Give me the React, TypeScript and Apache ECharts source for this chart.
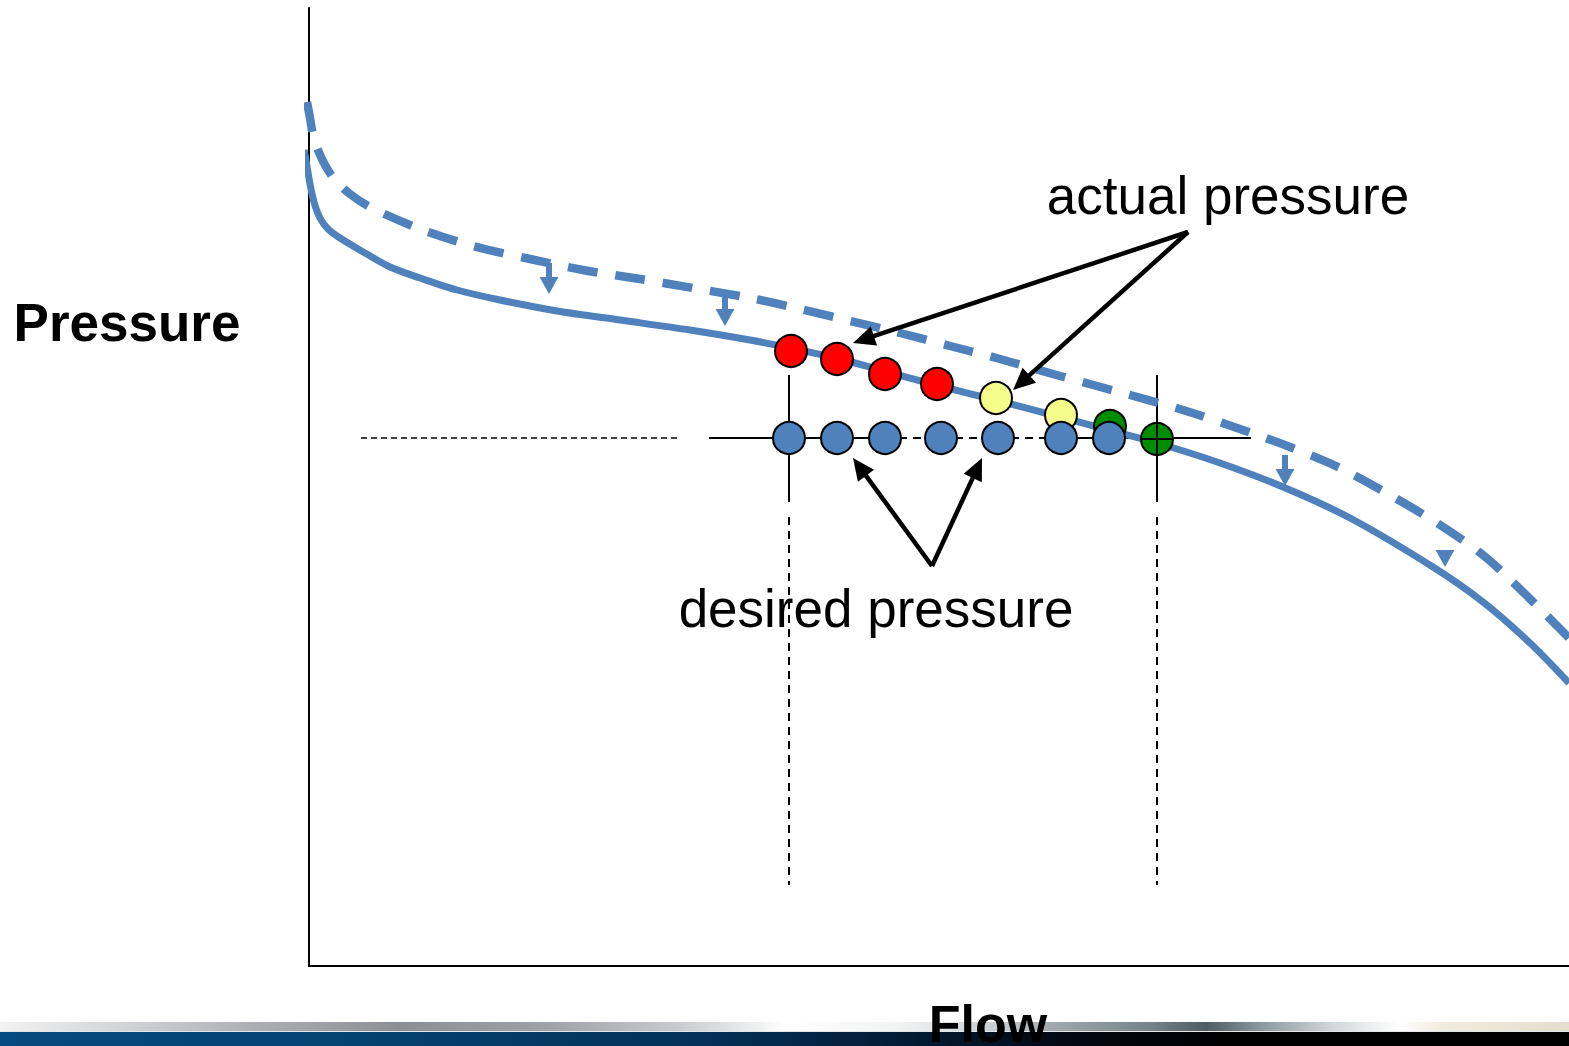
import React, { useEffect, useRef } from "react";
import * as echarts from "echarts";

// Axis extents (arbitrary flow / pressure units)
const FLOW_MAX = 1260;
const PRESSURE_MAX = 958;

// Solid curve: actual system curve
const systemCurve: [number, number][] = [
  [-5, 816], [-2, 800], [1, 782], [5, 764], [11, 748], [19, 737], [31, 728], [56, 713],
  [81, 699], [111, 688], [148, 676], [191, 666], [248, 655], [311, 646],
  [381, 636], [441, 626], [481, 618], [527, 608], [575, 595], [627, 581],
  [686, 566], [751, 549], [799, 536], [848, 523], [911, 503], [974, 479],
  [1041, 448], [1124, 399], [1174, 364], [1221, 323], [1260, 283],
];

// Dashed curve: original (higher) curve
const originalCurve: [number, number][] = [
  [-2, 864], [1, 848], [4, 831], [9, 816], [16, 801], [26, 786], [41, 772],
  [61, 759], [111, 737], [164, 720], [221, 707], [274, 696], [331, 687],
  [384, 678], [441, 668], [491, 657], [541, 645], [591, 633], [641, 620],
  [691, 607], [751, 590], [821, 571], [874, 556], [928, 538], [981, 519],
  [1031, 498], [1081, 471], [1128, 443], [1174, 411], [1214, 374], [1260, 328],
];

// Small shift arrows from dashed to solid curve [x1, y1, x2, y2]
const shiftArrows: number[][] = [
  [240, 703, 240, 672],
  [416, 671, 416, 640],
  [976, 511, 976, 480],
  [1136, 416, 1136, 399],
];

// Desired pressure points
const desiredPoints: [number, number][] = [
  [480, 528], [528, 528], [576, 528], [632, 528], [689, 528], [752, 528], [800, 528],
];

// Actual pressure points
const actualHigh: [number, number][] = [[482, 615], [528, 607], [576, 592], [628, 582]];
const actualNear: [number, number][] = [[687, 568], [752, 551]];
const actualOnTarget: [number, number][] = [[801, 540], [848, 527]];
const targetPoint: [number, number][] = [[848, 527]];

// Guide lines [x1, y1, x2, y2]
const solidGuides: number[][] = [
  [400, 528, 576, 528],
  [752, 528, 942, 528],
  [480, 591, 480, 464],
  [848, 591, 848, 464],
];
const dashedGuides: number[][] = [
  [576, 528, 752, 528],
  [480, 449, 480, 81],
  [848, 449, 848, 81],
];
const thinDashedGuides: number[][] = [[52, 528, 368, 528]];

// Callout arrows [x1, y1, x2, y2]
const calloutArrows: number[][] = [
  [879, 734, 544, 623],
  [879, 734, 704, 576],
  [623, 400, 544, 508],
  [623, 400, 673, 508],
];

const yAxisTitle = "Pressure";
const xAxisTitle = "Flow";
const actualLabel = "actual pressure";
const desiredLabel = "desired pressure";

const BLUE = "#4F81BD";

function segmentSeries(data: number[][], style: any, z: number) {
  return {
    type: "custom",
    coordinateSystem: "cartesian2d",
    data,
    z,
    clip: false,
    silent: true,
    encode: { x: [0, 2], y: [1, 3] },
    renderItem: (_p: any, api: any) => {
      const a = api.coord([api.value(0), api.value(1)]);
      const b = api.coord([api.value(2), api.value(3)]);
      return {
        type: "line",
        shape: { x1: a[0], y1: a[1], x2: b[0], y2: b[1] },
        style: { fill: null, ...style },
      };
    },
  };
}

function arrowSeries(data: number[][], color: string, width: number, headLen: number, headW: number, z: number) {
  return {
    type: "custom",
    coordinateSystem: "cartesian2d",
    data,
    z,
    clip: false,
    silent: true,
    encode: { x: [0, 2], y: [1, 3] },
    renderItem: (_p: any, api: any) => {
      const a = api.coord([api.value(0), api.value(1)]);
      const b = api.coord([api.value(2), api.value(3)]);
      const dx = b[0] - a[0];
      const dy = b[1] - a[1];
      const len = Math.sqrt(dx * dx + dy * dy) || 1;
      const ux = dx / len;
      const uy = dy / len;
      const hl = Math.min(headLen, len);
      const bx = b[0] - ux * hl;
      const by = b[1] - uy * hl;
      const px = -uy * headW / 2;
      const py = ux * headW / 2;
      const children: any[] = [];
      if (len - hl > 0.5) {
        children.push({
          type: "line",
          shape: { x1: a[0], y1: a[1], x2: bx + ux * 2, y2: by + uy * 2 },
          style: { stroke: color, lineWidth: width, fill: null },
        });
      }
      children.push({
        type: "polygon",
        shape: { points: [[b[0], b[1]], [bx + px, by + py], [bx - px, by - py]] },
        style: { fill: color },
      });
      return { type: "group", children };
    },
  };
}

function scatterSeries(data: [number, number][], color: string, z: number) {
  return {
    type: "scatter",
    data,
    z,
    symbol: "circle",
    symbolSize: 32,
    silent: true,
    itemStyle: { color, borderColor: "#000", borderWidth: 2, opacity: 1 },
  };
}

export default function App() {
  const ref = useRef<HTMLDivElement>(null);

  useEffect(() => {
    if (!ref.current) return;
    const chart = echarts.init(ref.current, undefined, { renderer: "svg" });
    const option: any = {
      animation: false,
      backgroundColor: "#ffffff",
      grid: { left: 309, right: 0, top: 8, bottom: 80, containLabel: false },
      xAxis: {
        type: "value",
        min: 0,
        max: FLOW_MAX,
        axisLine: { show: true, onZero: false, lineStyle: { color: "#000", width: 2 } },
        axisTick: { show: false },
        axisLabel: { show: false },
        splitLine: { show: false },
      },
      yAxis: {
        type: "value",
        min: 0,
        max: PRESSURE_MAX,
        axisLine: { show: true, onZero: false, lineStyle: { color: "#000", width: 2 } },
        axisTick: { show: false },
        axisLabel: { show: false },
        splitLine: { show: false },
      },
      series: [
        segmentSeries(thinDashedGuides, { stroke: "#000", lineWidth: 1.5, lineDash: [6, 4] }, 3),
        segmentSeries(solidGuides, { stroke: "#000", lineWidth: 2 }, 3),
        segmentSeries(dashedGuides, { stroke: "#000", lineWidth: 2, lineDash: [8, 6] }, 3),
        {
          type: "line",
          data: originalCurve,
          z: 4,
          smooth: 0.3,
          showSymbol: false,
          clip: false,
          silent: true,
          lineStyle: { color: BLUE, width: 8.5, type: [30, 18], cap: "butt" },
        },
        {
          type: "line",
          data: systemCurve,
          z: 4,
          smooth: 0.3,
          showSymbol: false,
          clip: false,
          silent: true,
          lineStyle: { color: BLUE, width: 7 },
        },
        arrowSeries(shiftArrows, BLUE, 6, 17, 19, 5),
        scatterSeries(actualHigh, "#FF0000", 6),
        scatterSeries(actualNear, "#F4FC8A", 6),
        scatterSeries(actualOnTarget, "#008E00", 6),
        scatterSeries(desiredPoints, BLUE, 7),
        {
          type: "custom",
          coordinateSystem: "cartesian2d",
          data: targetPoint,
          z: 8,
          clip: false,
          silent: true,
          renderItem: (_p: any, api: any) => {
            const c = api.coord([api.value(0), api.value(1)]);
            return {
              type: "group",
              children: [
                { type: "line", shape: { x1: c[0] - 17, y1: c[1], x2: c[0] + 17, y2: c[1] }, style: { stroke: "#000", lineWidth: 2 } },
                { type: "line", shape: { x1: c[0], y1: c[1] - 17, x2: c[0], y2: c[1] + 17 }, style: { stroke: "#000", lineWidth: 2 } },
              ],
            };
          },
        },
        arrowSeries(calloutArrows, "#000", 4.5, 22, 20, 9),
      ],
      graphic: [
        {
          type: "rect",
          z: 1,
          shape: { x: 0, y: 1022, width: 1569, height: 9 },
          style: {
            fill: new echarts.graphic.LinearGradient(0, 0, 1, 0, [
              { offset: 0, color: "#f2f2f2" },
              { offset: 0.064, color: "#d9dadc" },
              { offset: 0.16, color: "#aeb0b4" },
              { offset: 0.255, color: "#8c8f94" },
              { offset: 0.35, color: "#9fa2a7" },
              { offset: 0.433, color: "#c9cbce" },
              { offset: 0.484, color: "#f0f1f1" },
              { offset: 0.5, color: "#ffffff" },
              { offset: 0.574, color: "#f2f3f3" },
              { offset: 0.637, color: "#c8cdd0" },
              { offset: 0.669, color: "#a1aaae" },
              { offset: 0.733, color: "#76848a" },
              { offset: 0.769, color: "#4e5c63" },
              { offset: 0.803, color: "#8a989e" },
              { offset: 0.848, color: "#d0d6d8" },
              { offset: 0.892, color: "#ffffff" },
              { offset: 0.918, color: "#f1ece0" },
              { offset: 1, color: "#e5dece" },
            ]),
          },
        },
        {
          type: "rect",
          z: 1,
          shape: { x: 0, y: 1031, width: 1569, height: 1 },
          style: { fill: "#e4e6e8" },
        },
        {
          type: "rect",
          z: 1,
          shape: { x: 0, y: 1032, width: 1569, height: 14 },
          style: {
            fill: new echarts.graphic.LinearGradient(0, 0, 1, 0, [
              { offset: 0, color: "#054a80" },
              { offset: 0.25, color: "#04416f" },
              { offset: 0.45, color: "#033058" },
              { offset: 0.58, color: "#021b33" },
              { offset: 0.67, color: "#020a15" },
              { offset: 0.78, color: "#000000" },
              { offset: 1, color: "#000000" },
            ]),
          },
        },
        {
          type: "text",
          z: 10,
          x: 127,
          y: 322,
          style: {
            text: yAxisTitle,
            fontFamily: "Liberation Sans, Arial, sans-serif",
            fontWeight: "bold",
            fontSize: 53,
            fill: "#000",
            align: "center",
            verticalAlign: "middle",
          },
        },
        {
          type: "text",
          z: 10,
          x: 988,
          y: 1024,
          style: {
            text: xAxisTitle,
            fontFamily: "Liberation Sans, Arial, sans-serif",
            fontWeight: "bold",
            fontSize: 52,
            fill: "#000",
            align: "center",
            verticalAlign: "middle",
          },
        },
        {
          type: "text",
          z: 10,
          x: 1228,
          y: 195,
          style: {
            text: actualLabel,
            fontFamily: "Liberation Sans, Arial, sans-serif",
            fontSize: 53,
            fill: "#000",
            align: "center",
            verticalAlign: "middle",
          },
        },
        {
          type: "text",
          z: 0,
          x: 876,
          y: 608,
          style: {
            text: desiredLabel,
            fontFamily: "Liberation Sans, Arial, sans-serif",
            fontSize: 53,
            fill: "#000",
            align: "center",
            verticalAlign: "middle",
          },
        },
      ],
    };
    chart.setOption(option);
    return () => chart.dispose();
  }, []);

  return (
    <div
      ref={ref}
      style={{ position: "fixed", left: 0, top: 0, width: 1569, height: 1046, background: "#fff" }}
    />
  );
}
